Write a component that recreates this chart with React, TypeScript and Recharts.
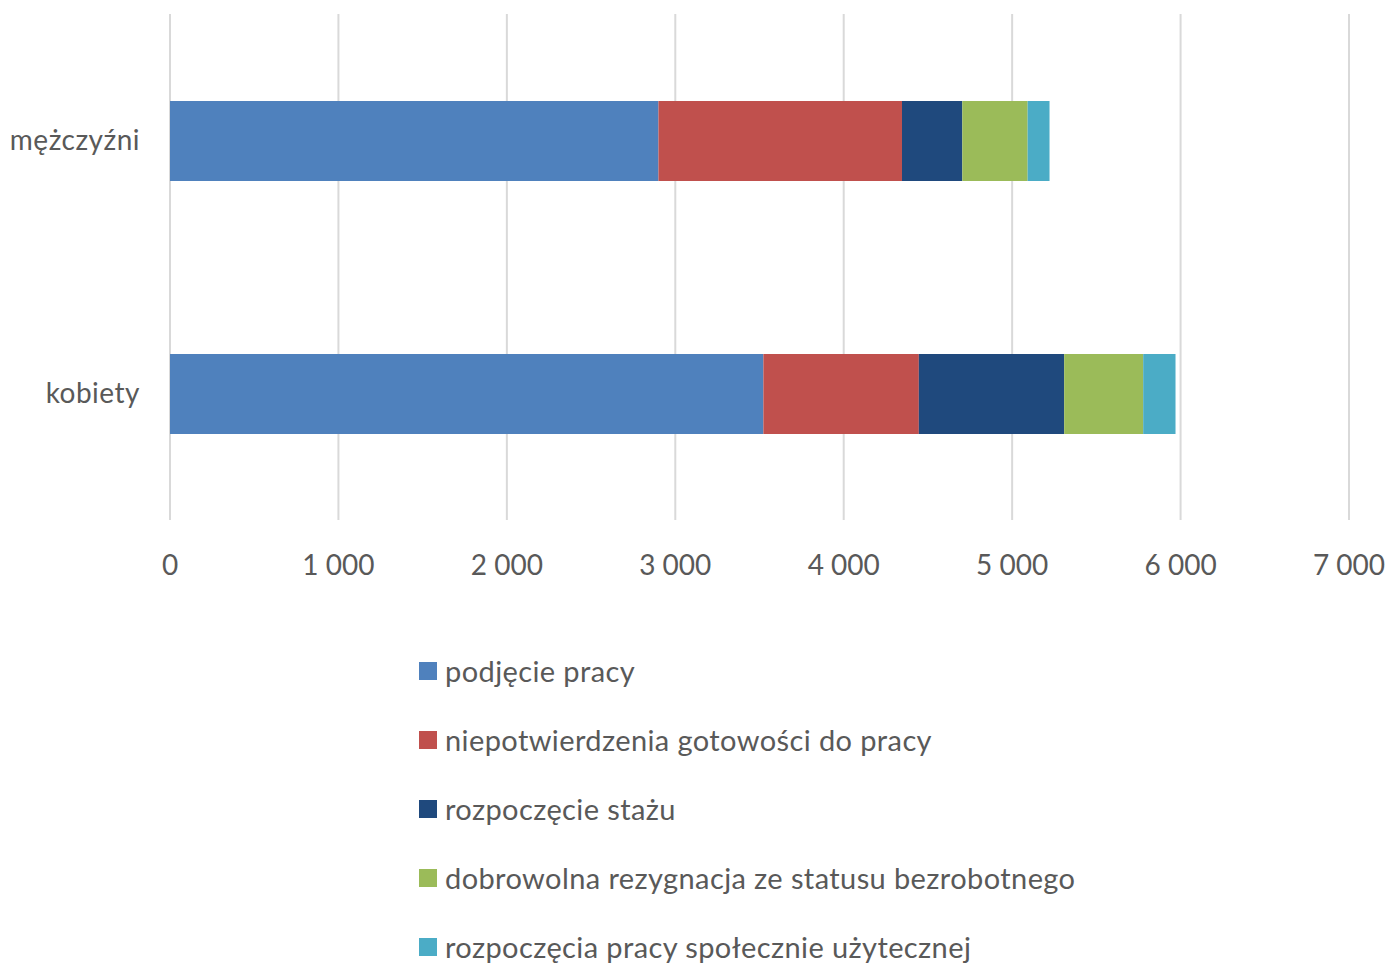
import { BarChart, Bar, XAxis, YAxis, CartesianGrid } from "recharts";

const categories = ["mężczyźni", "kobiety"];
const podjeciePracy = [2900, 3523];
const niepotwierdzenia = [1446, 923];
const rozpoczecieStazu = [358, 863];
const dobrowolnaRezygnacja = [388, 469];
const pracaSpoleczna = [130, 192];
const xTicks = [0, 1000, 2000, 3000, 4000, 5000, 6000, 7000];

const series = [
  { key: "podjecie", name: "podjęcie pracy", values: podjeciePracy, color: "#4f81bd" },
  { key: "niepotw", name: "niepotwierdzenia gotowości do pracy", values: niepotwierdzenia, color: "#c0504d" },
  { key: "staz", name: "rozpoczęcie stażu", values: rozpoczecieStazu, color: "#1f497d" },
  { key: "rezyg", name: "dobrowolna rezygnacja ze statusu bezrobotnego", values: dobrowolnaRezygnacja, color: "#9bbb59" },
  { key: "psu", name: "rozpoczęcia pracy społecznie użytecznej", values: pracaSpoleczna, color: "#4bacc6" },
];

const data = categories.map((c, i) => {
  const row: Record<string, string | number> = { category: c };
  series.forEach((s) => { row[s.key] = s.values[i]; });
  return row;
});

const FONT = "Lato, sans-serif";
const TEXT = "#595959";
const fmt = (v: number) => String(v).replace(/\B(?=(\d{3})+(?!\d))/g, " ");

export default function App() {
  return (
    <div style={{ position: "absolute", left: 0, top: 0, width: 1391, height: 963, fontFamily: FONT, background: "#fff" }}>
      <BarChart
        width={1391}
        height={963}
        data={data}
        layout="vertical"
        margin={{ top: 14, right: 42, left: 0, bottom: 0 }}
      >
        <CartesianGrid horizontal={false} stroke="#d9d9d9" strokeWidth={2} />
        <XAxis
          type="number"
          domain={[0, 7000]}
          ticks={xTicks}
          tickFormatter={fmt}
          axisLine={false}
          tickLine={false}
          tickSize={0}
          tickMargin={35}
          height={443}
          tick={{ fontSize: 28, fill: TEXT, fontFamily: FONT }}
        />
        <YAxis
          type="category"
          dataKey="category"
          width={170}
          axisLine={false}
          tickLine={false}
          tickSize={0}
          tickMargin={30}
          tick={{ fontSize: 28, fill: TEXT, fontFamily: FONT, letterSpacing: 0.5 }}
        />
        {series.map((s) => (
          <Bar key={s.key} dataKey={s.key} name={s.name} stackId="a" fill={s.color} barSize={80} isAnimationActive={false} />
        ))}
      </BarChart>
      <div style={{ position: "absolute", left: 419, top: 636 }}>
        {series.map((s) => (
          <div key={s.key} style={{ height: 69, display: "flex", alignItems: "center" }}>
            <span style={{ width: 18, height: 18, background: s.color, display: "inline-block", marginRight: 8 }} />
            <span style={{ fontSize: 29, letterSpacing: 0.4, color: TEXT, whiteSpace: "nowrap" }}>{s.name}</span>
          </div>
        ))}
      </div>
    </div>
  );
}
